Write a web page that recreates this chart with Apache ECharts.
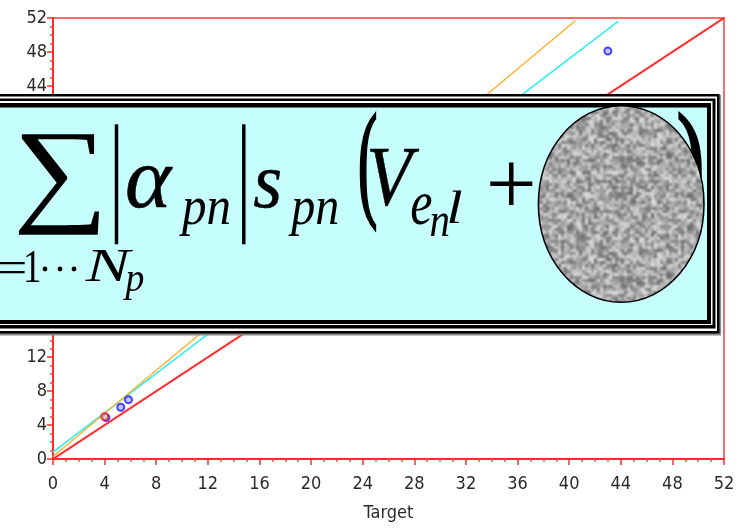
<!DOCTYPE html>
<html>
<head>
<meta charset="utf-8">
<script src="https://cdn.jsdelivr.net/npm/echarts@6/dist/echarts.min.js"></script>
<style>
html,body{margin:0;padding:0;background:#fff;}
#main{width:741px;height:530px;}
</style>
</head>
<body>
<div id="main"></div>
<script>
// ---- data ----
const redLine = [[0, 0], [52, 52]];
const cyanLine = [[0, 0.8], [43.8, 51.6]];
const orangeLine = [[0, 0.3], [40.5, 51.7]];
const bluePoints = [[4.1, 4.9], [5.25, 6.1], [5.85, 7.0], [43, 48.1]];
const redPoints = [[4, 5]];
const axisMin = 0;
const axisMax = 52;
const axisStep = 4;
const xAxisTitle = 'Target';

const LABEL_FAMILY = 'DejaVu Sans';
const SERIF = '"Liberation Serif", "Times New Roman", serif';

function makeTexture() {
  const N = 40, S = 3, W = N * S;
  const c = document.createElement('canvas');
  c.width = W * 3; c.height = W * 3;
  const g = c.getContext('2d');
  for (let i = 0; i < N; i++) {
    for (let j = 0; j < N; j++) {
      let h = Math.sin(i * 12.9898 + j * 78.233) * 43758.5453;
      h = h - Math.floor(h);
      const v = Math.round(105 + h * 120);
      g.fillStyle = 'rgb(' + v + ',' + v + ',' + v + ')';
      for (let a = 0; a < 3; a++) for (let b = 0; b < 3; b++) g.fillRect(a * W + i * S, b * W + j * S, S, S);
    }
  }
  const c2 = document.createElement('canvas');
  c2.width = W * 3; c2.height = W * 3;
  const g2 = c2.getContext('2d');
  g2.filter = 'blur(1px)';
  g2.drawImage(c, 0, 0);
  const c3 = document.createElement('canvas');
  c3.width = W; c3.height = W;
  c3.getContext('2d').drawImage(c2, W, W, W, W, 0, 0, W, W);
  return c3;
}

// fit a glyph run into an ink box [x0, y0, x1, y1]
const mctx = document.createElement('canvas').getContext('2d');
function fit(str, italic, box, strokeW) {
  const font = (italic ? 'italic ' : '') + '100px ' + SERIF;
  mctx.font = font;
  mctx.textBaseline = 'middle';
  mctx.textAlign = 'left';
  const m = mctx.measureText(str);
  const left = -m.actualBoundingBoxLeft, right = m.actualBoundingBoxRight;
  const top = -m.actualBoundingBoxAscent, bottom = m.actualBoundingBoxDescent;
  const sx = (box[2] - box[0]) / (right - left);
  const sy = (box[3] - box[1]) / (bottom - top);
  const style = {
    text: str, x: 0, y: 0, font: font, fill: '#000',
    align: 'left', verticalAlign: 'middle', textAlign: 'left', textVerticalAlign: 'middle'
  };
  if (strokeW) { style.stroke = '#000'; style.lineWidth = strokeW; }
  return {
    type: 'text', z: 130,
    x: box[0] - sx * left, y: box[1] - sy * top, scaleX: sx, scaleY: sy,
    style: style
  };
}
function R(x, y, w, h, fill, z) {
  return { type: 'rect', z: z, shape: { x: x, y: y, width: w, height: h }, style: { fill: fill } };
}

const chart = echarts.init(document.getElementById('main'), null, { renderer: 'canvas' });

const labelStyle = { fontFamily: LABEL_FAMILY, fontWeight: 'condensed', fontSize: 18, color: '#2a2a2a' };

const axisCommon = {
  type: 'value', min: axisMin, max: axisMax, interval: axisStep,
  splitLine: { show: false },
  axisLine: { show: true, lineStyle: { color: '#ff2a2a', width: 2 } },
  axisTick: { show: true, length: 6, lineStyle: { color: '#ff2a2a', width: 1.5 } },
  minorTick: { show: true, splitNumber: 4, length: 3, lineStyle: { color: '#ff4a4a', width: 1.5 } }
};

const option = {
  animation: false,
  backgroundColor: '#ffffff',
  grid: { left: 53, right: 17, top: 18, bottom: 71, show: true, borderColor: '#ff6a6a', borderWidth: 2, backgroundColor: 'transparent' },
  xAxis: Object.assign({}, axisCommon, {
    name: xAxisTitle, nameLocation: 'middle', nameGap: 45,
    nameTextStyle: { fontFamily: LABEL_FAMILY, fontWeight: 'condensed', fontSize: 18, color: '#2a2a2a' },
    axisLabel: Object.assign({}, labelStyle, { margin: 16 })
  }),
  yAxis: Object.assign({}, axisCommon, {
    axisLabel: Object.assign({}, labelStyle, { margin: 6 })
  }),
  series: [
    { type: 'line', data: redLine, showSymbol: false, lineStyle: { color: '#ff2020', width: 1.5, shadowColor: 'rgba(255,120,120,0.6)', shadowBlur: 2 }, z: 3 },
    { type: 'line', data: cyanLine, showSymbol: false, lineStyle: { color: '#28f0f0', width: 1.5 }, z: 3 },
    { type: 'line', data: orangeLine, showSymbol: false, lineStyle: { color: '#ffb030', width: 1.5 }, z: 3 },
    { type: 'scatter', data: bluePoints, symbol: 'circle', symbolSize: 7, itemStyle: { color: '#b8b8ff', borderColor: '#1a1aff', borderWidth: 2 }, z: 5 },
    { type: 'scatter', data: redPoints, symbol: 'circle', symbolSize: 7, itemStyle: { color: 'rgba(255,230,120,0.6)', borderColor: '#ff2020', borderWidth: 2 }, z: 6 }
  ],
  graphic: [
    // framed box
    R(-10, 95, 731, 240.5, '#8a8a8a', 100),
    R(-10, 94, 729.5, 239.5, '#000000', 101),
    R(-10, 96.5, 727, 234.5, '#ffffff', 102),
    R(-10, 98.5, 725.5, 230, '#000000', 103),
    R(-10, 101, 722.5, 224, '#ffffff', 104),
    R(-10, 103, 721, 221, '#000000', 105),
    R(-10, 107.5, 717, 212.5, '#c6fdfd', 106),
    // formula
    fit('\u2211', false, [18.3, 133.3, 100, 235]),
    { type: 'line', z: 130, shape: { x1: 116.5, y1: 124.3, x2: 116.5, y2: 244.3 }, style: { stroke: '#000', lineWidth: 3.5 } },
    fit('\u03b1', true, [126.7, 166.7, 173.3, 208.3], 0.6),
    fit('pn', true, [179, 197.7, 229, 235.7]),
    { type: 'line', z: 130, shape: { x1: 243.8, y1: 124.3, x2: 243.8, y2: 244.3 }, style: { stroke: '#000', lineWidth: 3.5 } },
    fit('s', true, [254, 170, 280, 207.7], 0.6),
    fit('pn', true, [288.3, 197.7, 337.3, 235.7]),
    fit('(', false, [360, 113.3, 376, 231.7], 2),
    fit('V', true, [370, 150, 419.3, 206.7], 0.6),
    fit('e', true, [411.7, 195, 431.7, 225]),
    fit('n', true, [430.7, 213.3, 448.3, 236.7]),
    fit('l', true, [449.3, 191.7, 461.7, 223.3]),
    fit('+', false, [489.3, 162.3, 532.7, 205]),
    fit(')', false, [679, 113.3, 701, 231.7], 2),
    fit('=', false, [-1, 261, 25, 272.3]),
    fit('1', false, [26, 251.7, 39.3, 281.7]),
    { type: 'circle', z: 130, shape: { cx: 45, cy: 269, r: 2.4 }, style: { fill: '#000' } },
    { type: 'circle', z: 130, shape: { cx: 60, cy: 269, r: 2.4 }, style: { fill: '#000' } },
    { type: 'circle', z: 130, shape: { cx: 74, cy: 269, r: 2.4 }, style: { fill: '#000' } },
    fit('N', true, [85, 251.7, 133.3, 281.7]),
    fit('p', true, [123.3, 271.7, 143.3, 300]),
    { type: 'ellipse', z: 140, shape: { cx: 621.2, cy: 204, rx: 82.8, ry: 98.3 }, style: { fill: { image: makeTexture(), repeat: 'repeat' }, stroke: '#000', lineWidth: 1.5 } }
  ]
};
chart.setOption(option);
</script>
</body>
</html>
